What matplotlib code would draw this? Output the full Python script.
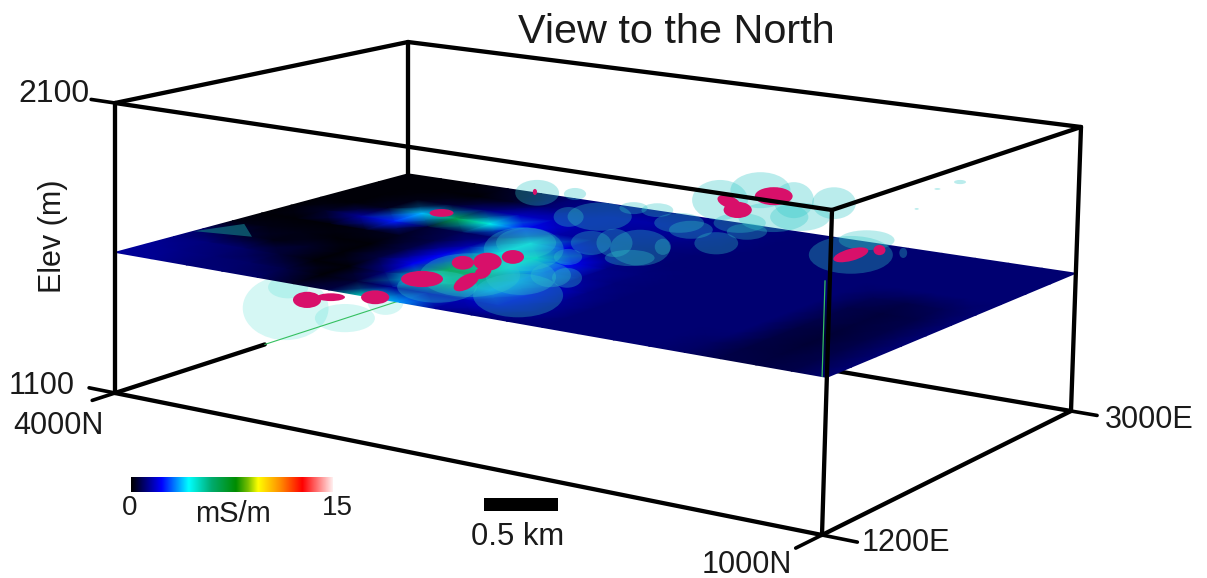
import numpy as np
import matplotlib
matplotlib.use('Agg')
import matplotlib.pyplot as plt
from matplotlib.colors import LinearSegmentedColormap
from matplotlib.patches import Ellipse

plt.rcParams['font.family'] = ['Liberation Sans', 'DejaVu Sans']

east_limits = (1200, 3000)
north_limits = (4000, 1000)
elev_limits = (1100, 2100)
slice_elev = 1585
PX_PER_M = 0.3

# where the box corners fall in the picture, [east index][north index]
top_corners = np.array([[[115, 103], [832, 210]], [[408, 42], [1081, 127]]], float)
bottom_corners = np.array([[[115, 393], [822, 535]], [[408, 298], [1071, 411]]], float)

slice_east = [3000, 2820, 2640, 2460, 2280, 2100, 1920, 1740, 1560, 1380, 1200]
slice_north = [4000, 3850, 3700, 3550, 3400, 3250, 3100, 2950, 2800, 2650, 2500,
               2350, 2200, 2050, 1900, 1750, 1600, 1450, 1300, 1150, 1000]
conductivity = [
    [.1, .1, .1, .3, .6, 1, 1.2, 1.2, 1.2, 1.2, 1.1, 1.1, 1, 1, 1, 1, 1, 1, 1, 1, 1],
    [.1, .1, .1, .1, .4, 1, 1.3, 1.5, 1.5, 1.4, 1.3, 1.1, 1, 1, 1, 1, 1, 1, 1, 1, 1],
    [.1, .1, .2, .5, 1.1, 1.7, 1.7, 1.5, 1.4, 1.3, 1.2, 1.1, 1, 1, 1, 1, 1, 1, 1, 1, 1],
    [.1, .1, .3, 3.8, 6.5, 4.5, 2.3, 1.5, 1.3, 1.2, 1.1, 1, 1, 1, 1, 1, 1, 1, 1, 1, 1],
    [.1, .4, 1.4, 2.5, .5, .8, 1.1, 4.5, 2, 1.3, 1.1, 1, 1, 1, 1, 1, 1, .8, .7, .8, 1],
    [.1, .1, .1, .2, .3, .7, 1.6, 4.5, 5, 2.2, 1.2, 1.1, 1, 1, 1, 1, 1, .7, .55, .7, 1],
    [.2, .2, .2, .1, .1, .7, 2.2, 6, 4.5, 2.8, 1.4, 1.1, 1, 1, 1, 1, 1, .7, .55, .7, 1],
    [.9, .5, .2, .4, .1, .6, 2.2, 7, 6.5, 3.5, 1.8, 1.2, 1, 1, 1, 1, 1, .6, .5, .7, 1],
    [1.2, 1.1, .9, .5, .1, .1, 1.1, 4.5, 6, 3.5, 2, 1.3, 1, 1, 1, 1, 1, .6, .5, .7, 1],
    [1.4, 1.2, 1, .9, .6, .1, .5, 1.3, 1.6, 1.6, 1.8, 1.3, 1, 1, 1, 1, .9, .6, .55, .7, 1],
    [1.4, 1.3, 1.1, 1, .9, .4, .6, 5, 3.5, 1.3, 1.1, 1, 1, 1, 1, 1, .9, .7, .6, .7, 1],
]

# low conductivity shells under the slice
under_east = [1200, 1200, 1200, 1200]
under_north = [3280, 3270, 2860, 3030]
under_elev = [1499, 1570, 1578, 1501]
under_rx = [143, 67, 60, 100]
under_ry = [107, 37, 43, 47]

# low conductivity shells on and over the slice
shell_east = [3000, 3000, 2990, 3000, 3000, 3000, 3000, 3000, 3000, 3000, 3000, 2800, 2730, 2880, 2420, 2470, 2460,
              2520, 2810, 2680, 2900, 2180, 2300, 1900, 1900, 1810, 2280, 1720, 2800, 3000, 2930, 3000, 3000, 3000,
              1560, 2190, 1490]
shell_north = [3420, 3250, 2980, 2880, 2600, 2420, 2270, 2090, 2360, 2510, 2240, 3000, 3090, 2700, 2780, 2710, 2590,
               2530, 2600, 2400, 2410, 2720, 2530, 2610, 2540, 2680, 2970, 2840, 1880, 1940, 1730, 1530, 1630, 1720,
               2530, 2920, 2830]
shell_elev = [1586, 1603, 1585, 1588, 1660, 1718, 1699, 1709, 1626, 1586, 1641, 1585, 1585, 1585, 1585, 1585, 1585,
              1585, 1585, 1585, 1585, 1585, 1585, 1585, 1585, 1585, 1585, 1585, 1585, 1592, 1585, 1849, 1813, 1731,
              1585, 1585, 1585]
shell_rx = [73, 37, 47, 53, 93, 100, 67, 73, 117, 87, 100, 107, 50, 83, 67, 60, 100,
            27, 73, 73, 67, 47, 83, 67, 50, 117, 100, 167, 140, 93, 13, 20, 10, 7,
            150, 133, 133]
shell_ry = [43, 20, 20, 23, 67, 60, 60, 53, 50, 33, 47, 47, 33, 33, 40, 47, 60,
            27, 30, 37, 27, 27, 27, 40, 33, 60, 50, 73, 63, 33, 17, 7, 3, 3,
            73, 73, 53]

# high conductivity bodies
hot_east = [1200, 1200, 1210, 1560, 1870, 1940, 2060, 1620, 1790, 2510, 3000, 3000, 3000, 3000, 2800, 2920]
hot_north = [3190, 3090, 2910, 2940, 2970, 2910, 2880, 2790, 2830, 3500, 3430, 2360, 2560, 2520, 1880, 1830]
hot_elev = [1539, 1562, 1585, 1585, 1585, 1585, 1585, 1585, 1585, 1585, 1588, 1703, 1658, 1633, 1585, 1585]
hot_rx = [47, 47, 47, 70, 37, 47, 37, 47, 30, 40, 7, 63, 40, 47, 60, 20]
hot_ry = [27, 13, 23, 27, 23, 30, 23, 23, 20, 13, 10, 30, 20, 27, 20, 17]
hot_angle = [0, 0, 0, 0, 0, 0, 0, -30, -30, 0, 0, 0, 20, 0, -15, 0]

patch_east = [1686, 1906, 1744]
patch_north = [4000, 3938, 3792]

bar_levels = np.linspace(0, 15, 256)
colour_stops = [(0, (0, 0, 0)), (.15, (0, 0, 1)), (.285, (0, 1, 1)), (.40, (0, .67, .43)), (.52, (0, .55, 0)),
                (.58, (.47, .75, 0)), (.63, (1, 1, 0)), (.74, (1, .55, 0)), (.85, (1, 0, 0)), (.92, (1, .43, .43)),
                (1, (1, .93, .93))]
cmap = LinearSegmentedColormap.from_list('msm', colour_stops)


def project(east, north, elev):
    # plain trilinear map between the box corners
    e = (np.asarray(east, float) - east_limits[0]) / (east_limits[1] - east_limits[0])
    n = (np.asarray(north, float) - north_limits[0]) / (north_limits[1] - north_limits[0])
    z = (np.asarray(elev, float) - elev_limits[0]) / (elev_limits[1] - elev_limits[0])
    e, n, z = [a[..., None] for a in (e, n, z)]
    top = (1-e)*((1-n)*top_corners[0, 0] + n*top_corners[0, 1]) + e*((1-n)*top_corners[1, 0] + n*top_corners[1, 1])
    bottom = (1-e)*((1-n)*bottom_corners[0, 0] + n*bottom_corners[0, 1]) + e*((1-n)*bottom_corners[1, 0] + n*bottom_corners[1, 1])
    return z*top + (1-z)*bottom


def add_edge(ax, a, b, zorder, color='black', lw=3.1):
    pts = project(*np.array([a, b]).T)
    ax.plot(pts[:, 0], pts[:, 1], color=color, lw=lw, zorder=zorder, solid_capstyle='round')


def add_blobs(ax, east, north, elev, rx, ry, zorder, color, alpha, angle=None):
    centres = project(east, north, elev)
    if angle is None:
        angle = [0]*len(rx)
    for c, w, h, a in zip(centres, rx, ry, angle):
        ax.add_patch(Ellipse(c, 2*w*PX_PER_M, 2*h*PX_PER_M, angle=a, facecolor=color, edgecolor='none',
                             alpha=alpha, zorder=zorder))


fig = plt.figure(figsize=(12.07, 5.78), dpi=100)
ax = fig.add_axes([0, 0, 1, 1])

E, N = np.meshgrid(slice_east, slice_north, indexing='ij')
mesh = project(E, N, np.full(E.shape, slice_elev))
ax.pcolormesh(mesh[..., 0], mesh[..., 1], np.array(conductivity), cmap=cmap, vmin=0, vmax=15, shading='gouraud', zorder=3)

add_blobs(ax, under_east, under_north, under_elev, under_rx, under_ry, 1, '#40dcd0', .22)
add_blobs(ax, shell_east, shell_north, shell_elev, shell_rx, shell_ry, 4, '#30c8c8', .33)
add_blobs(ax, hot_east, hot_north, hot_elev, hot_rx, hot_ry, 5, '#d8106a', 1, hot_angle)

patch_pts = project(patch_east, patch_north, [slice_elev]*3)
ax.fill(patch_pts[:, 0], patch_pts[:, 1], color='#0f6a7c', alpha=.75, lw=0, zorder=4)

e0, e1 = east_limits
n0, n1 = north_limits
z0, z1 = elev_limits
# hidden side of the box
add_edge(ax, (e1, n0, z1), (e1, n0, slice_elev), 2)
add_edge(ax, (e1, n0, z0), (e1, n1, z0), 2)
add_edge(ax, (e0, n0, z0), (2120, n0, z0), 2)
add_edge(ax, (2120, n0, z0), (e1, n0, z0), 2, color='#35c060', lw=.8)
add_edge(ax, (e0, 1020, slice_elev), (e0, 1020, 1880), 5.5, color='#35c060', lw=.9)
# near side
for a, b in [((e0, n0, z1), (e0, n1, z1)), ((e0, n1, z1), (e1, n1, z1)), ((e1, n1, z1), (e1, n0, z1)),
             ((e1, n0, z1), (e0, n0, z1)), ((e0, n0, z1), (e0, n0, z0)), ((e0, n1, z1), (e0, n1, z0)),
             ((e1, n1, z1), (e1, n1, z0)), ((e0, n0, z0), (e0, n1, z0)), ((e0, n1, z0), (e1, n1, z0))]:
    add_edge(ax, a, b, 6)

# tick stubs run on along the box edges
for a, b in [((e0, n0, z1), (e0, 4100, z1)), ((e0, n0, z0), (e0, 4110, z0)), ((e0, n0, z0), (1060, n0, z0)),
             ((e0, n1, z0), (1010, n1, z0)), ((e0, n1, z0), (e0, 850, z0)), ((e1, n1, z0), (e1, 882, z0))]:
    add_edge(ax, a, b, 6, lw=2.6)

# colour bar and scale bar
ax.imshow(bar_levels[None, :], cmap=cmap, extent=(131, 333, 492, 477), aspect='auto', zorder=2)
ax.fill([484, 558, 558, 484], [498, 498, 511, 511], color='black', lw=0, zorder=2)

txt = '#1a1a1a'
ax.text(676, 32, 'View to the North', fontsize=29.8, ha='center', va='center', color=txt)
ax.text(90, 94, '2100', fontsize=23, ha='right', va='center', color=txt)
ax.text(75, 386, '1100', fontsize=22, ha='right', va='center', color=txt)
ax.text(13, 426, '4000N', fontsize=22, ha='left', va='center', color=txt)
ax.text(702, 565, '1000N', fontsize=22, ha='left', va='center', color=txt)
ax.text(862, 543, '1200E', fontsize=22, ha='left', va='center', color=txt)
ax.text(1105, 420, '3000E', fontsize=22, ha='left', va='center', color=txt)
ax.text(53, 236, 'Elev (m)', fontsize=22, rotation=90, ha='center', va='center', color=txt)
ax.text(130, 508, '0', fontsize=20, ha='center', va='center', color=txt)
ax.text(337, 508, '15', fontsize=20, ha='center', va='center', color=txt)
ax.text(233, 514, 'mS/m', fontsize=21, ha='center', va='center', color=txt)
ax.text(518, 537, '0.5 km', fontsize=22.3, ha='center', va='center', color=txt)

ax.set_xlim(0, 1207)
ax.set_ylim(578, 0)
ax.axis('off')
fig.savefig('out.png', dpi=100)
